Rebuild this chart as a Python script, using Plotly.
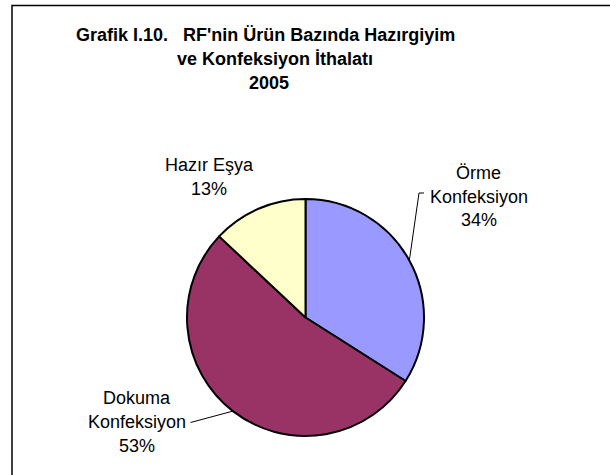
import math
import plotly.graph_objects as go

W, H = 610, 475

categories = ["Örme Konfeksiyon", "Dokuma Konfeksiyon", "Hazır Eşya"]
label_lines = [["Örme", "Konfeksiyon"], ["Dokuma", "Konfeksiyon"], ["Hazır Eşya"]]
values = [34, 53, 13]
colors = ["#9999FF", "#993366", "#FFFFCC"]
title_lines = ["Grafik I.10.\u00a0\u00a0\u00a0RF'nin Ürün Bazında Hazırgiyim", "ve Konfeksiyon İthalatı", "2005"]

FONT = "Liberation Sans, Arial, sans-serif"

# pie geometry (screen pixels)
cx, cy, R = 305.5, 317.5, 118.5


def px(x):
    return x / W


def py(y):
    return 1 - y / H


fig = go.Figure()
fig.add_trace(go.Pie(
    labels=categories,
    values=values,
    sort=False,
    direction="clockwise",
    rotation=0,
    marker=dict(colors=colors, line=dict(color="black", width=2)),
    textinfo="none",
    hoverinfo="label+percent",
    domain=dict(x=[px(cx - R), px(cx + R)], y=[py(cy + R), py(cy - R)]),
    showlegend=False,
))

total = sum(values)
pcts = [round(100 * v / total) for v in values]

# label block: centre x, first line cap-centre y, line step
label_pos = [(478.5, 172.5), (136.5, 398.0), (209.0, 165.0)]
LSTEP = 24
leader_ends = [[(424.0, 193.0), (419.0, 193.0)], [(190.5, 422.5)], None]

annotations = []
shapes = []
cum = 0
for i, v in enumerate(values):
    mid = (cum + v / 2) / total * 2 * math.pi
    cum += v
    ex = cx + R * math.sin(mid)
    ey = cy - R * math.cos(mid)
    lx, ly = label_pos[i]
    lines = label_lines[i] + [f"{pcts[i]}%"]
    for k, t in enumerate(lines):
        annotations.append(dict(
            x=px(lx), y=py(ly + k * LSTEP), xref="paper", yref="paper",
            text=t, showarrow=False,
            xanchor="center", yanchor="middle", align="center",
            font=dict(family=FONT, size=18, color="black"),
        ))
    if leader_ends[i]:
        pts = leader_ends[i] + [(ex, ey)]
        path = "M " + " L ".join(f"{px(a)},{py(b)}" for a, b in pts)
        shapes.append(dict(type="path", xref="paper", yref="paper", path=path,
                           line=dict(color="black", width=1)))

title_x = [265.5, 275.0, 269.0]
title_y = [35.0, 59.0, 83.0]
for t, tx, ty in zip(title_lines, title_x, title_y):
    annotations.append(dict(
        x=px(tx), y=py(ty), xref="paper", yref="paper",
        text="<b>" + t + "</b>", showarrow=False,
        xanchor="center", yanchor="middle", align="center",
        font=dict(family=FONT, size=18, color="black"),
    ))

# outer chart frame (extends past right and bottom edges)
shapes.append(dict(type="rect", xref="paper", yref="paper",
                   x0=px(12), x1=px(660), y0=py(520), y1=py(5.5),
                   line=dict(color="black", width=1.5), fillcolor="rgba(0,0,0,0)", layer="below"))

fig.update_layout(
    width=W, height=H,
    margin=dict(l=0, r=0, t=0, b=0),
    paper_bgcolor="white", plot_bgcolor="white",
    annotations=annotations, shapes=shapes,
    font=dict(family=FONT),
)

fig.write_html("out.html", config={"displayModeBar": False},
               post_script="document.body.style.margin='0px';")
